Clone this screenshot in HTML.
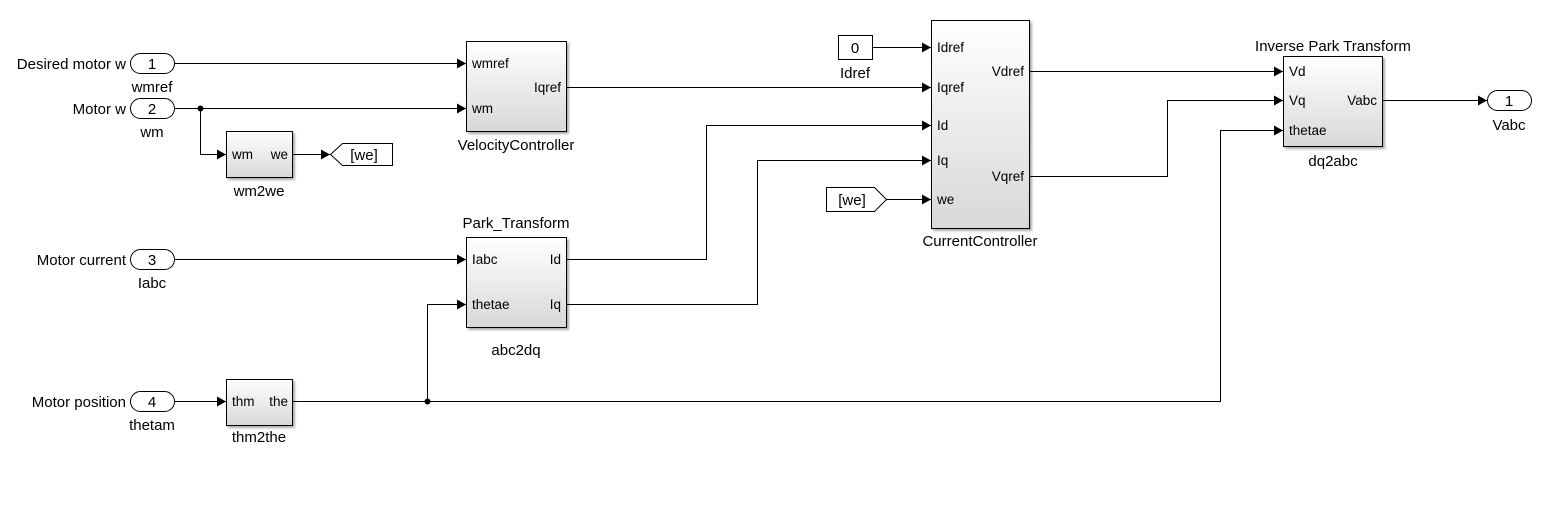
<!DOCTYPE html>
<html><head><style>
body{margin:0;background:#fff;}
text{font-family:"Liberation Sans",Arial,sans-serif;font-size:15px;fill:#000;}
text.p{font-size:13.5px;}
</style></head><body>
<svg width="1555" height="506" viewBox="0 0 1555 506" xmlns="http://www.w3.org/2000/svg">
<defs>
<linearGradient id="g" x1="0" y1="0" x2="0" y2="1"><stop offset="0" stop-color="#ffffff"/><stop offset="1" stop-color="#d8d8d8"/></linearGradient>
<marker id="a" markerWidth="10" markerHeight="10" refX="9" refY="5" orient="auto" markerUnits="userSpaceOnUse"><path d="M0,0 L9,5 L0,10 z" fill="#000"/></marker>
<filter id="s" x="-10%" y="-10%" width="130%" height="130%"><feDropShadow dx="2" dy="2" stdDeviation="1" flood-color="#888" flood-opacity="0.7"/></filter>
</defs>
<rect width="1555" height="506" fill="#fff"/>
<g fill="url(#g)" stroke="#000" stroke-width="1" filter="url(#s)">
<rect x="466.5" y="41.5" width="100" height="90"/>
<rect x="226.5" y="131.5" width="66" height="46"/>
<rect x="466.5" y="237.5" width="100" height="90"/>
<rect x="226.5" y="379.5" width="66" height="46"/>
<rect x="931.5" y="20.5" width="98" height="208"/>
<rect x="1283.5" y="56.5" width="99" height="90"/>
</g>
<g fill="#fff" stroke="#000" stroke-width="1">
<rect x="130.5" y="53.5" width="44" height="20" rx="10"/>
<rect x="130.5" y="98.5" width="44" height="20" rx="10"/>
<rect x="130.5" y="249.5" width="44" height="20" rx="10"/>
<rect x="130.5" y="391.5" width="44" height="20" rx="10"/>
<rect x="1487.5" y="90.5" width="44" height="20" rx="10"/>
<rect x="838.5" y="35.5" width="34" height="24"/>
<path d="M330.5,154.5 L342.5,143.5 L392.5,143.5 L392.5,165.5 L342.5,165.5 Z"/>
<path d="M826.5,187.5 L874.5,187.5 L886.5,199.5 L874.5,211.5 L826.5,211.5 Z"/>
</g>
<g stroke="#000" stroke-width="1" fill="none" marker-end="url(#a)">
<path d="M175,63.5 H466"/>
<path d="M175,108.5 H466"/>
<path d="M200.5,108.5 V154.5 H226"/>
<path d="M293,154.5 H330"/>
<path d="M175,259.5 H466"/>
<path d="M175,401.5 H226"/>
<path d="M427.5,401.5 V304.5 H466"/>
<path d="M567,87.5 H931"/>
<path d="M567,259.5 H706.5 V125.5 H931"/>
<path d="M567,304.5 H757.5 V160.5 H931"/>
<path d="M873,47.5 H931"/>
<path d="M887,199.5 H931"/>
<path d="M1030,71.5 H1283"/>
<path d="M1030,176.5 H1167.5 V100.5 H1283"/>
<path d="M293,401.5 H1220.5 V130.5 H1283"/>
<path d="M1383,100.5 H1487"/>
</g>
<circle cx="200.5" cy="108.5" r="3" fill="#000"/>
<circle cx="427.5" cy="401.5" r="3" fill="#000"/>
<g>
<text x="126" y="69" text-anchor="end">Desired motor w</text>
<text x="126" y="114" text-anchor="end">Motor w</text>
<text x="126" y="265" text-anchor="end">Motor current</text>
<text x="126" y="407" text-anchor="end">Motor position</text>
<text x="152" y="69" text-anchor="middle">1</text>
<text x="152" y="114" text-anchor="middle">2</text>
<text x="152" y="265" text-anchor="middle">3</text>
<text x="152" y="407" text-anchor="middle">4</text>
<text x="1509" y="106" text-anchor="middle">1</text>
<text x="855" y="53" text-anchor="middle">0</text>
<text x="152" y="92" text-anchor="middle">wmref</text>
<text x="152" y="137" text-anchor="middle">wm</text>
<text x="152" y="288" text-anchor="middle">Iabc</text>
<text x="152" y="430" text-anchor="middle">thetam</text>
<text x="1509" y="130" text-anchor="middle">Vabc</text>
<text x="855" y="78" text-anchor="middle">Idref</text>
<text x="364" y="160" text-anchor="middle">[we]</text>
<text x="852" y="205" text-anchor="middle">[we]</text>
<text class="p" x="472" y="68">wmref</text>
<text class="p" x="472" y="113">wm</text>
<text class="p" x="561" y="92" text-anchor="end">Iqref</text>
<text x="516" y="150" text-anchor="middle">VelocityController</text>
<text class="p" x="232" y="159">wm</text>
<text class="p" x="288" y="159" text-anchor="end">we</text>
<text x="259" y="196" text-anchor="middle">wm2we</text>
<text x="516" y="228" text-anchor="middle">Park_Transform</text>
<text class="p" x="472" y="264">Iabc</text>
<text class="p" x="472" y="309">thetae</text>
<text class="p" x="561" y="264" text-anchor="end">Id</text>
<text class="p" x="561" y="309" text-anchor="end">Iq</text>
<text x="516" y="355" text-anchor="middle">abc2dq</text>
<text class="p" x="232" y="406">thm</text>
<text class="p" x="288" y="406" text-anchor="end">the</text>
<text x="259" y="442" text-anchor="middle">thm2the</text>
<text class="p" x="937" y="52">Idref</text>
<text class="p" x="937" y="92">Iqref</text>
<text class="p" x="937" y="130">Id</text>
<text class="p" x="937" y="165">Iq</text>
<text class="p" x="937" y="204">we</text>
<text class="p" x="1024" y="76" text-anchor="end">Vdref</text>
<text class="p" x="1024" y="181" text-anchor="end">Vqref</text>
<text x="980" y="246" text-anchor="middle">CurrentController</text>
<text x="1333" y="51" text-anchor="middle">Inverse Park Transform</text>
<text class="p" x="1289" y="76">Vd</text>
<text class="p" x="1289" y="105">Vq</text>
<text class="p" x="1289" y="135">thetae</text>
<text class="p" x="1377" y="105" text-anchor="end">Vabc</text>
<text x="1333" y="166" text-anchor="middle">dq2abc</text>
</g>
</svg>
</body></html>
